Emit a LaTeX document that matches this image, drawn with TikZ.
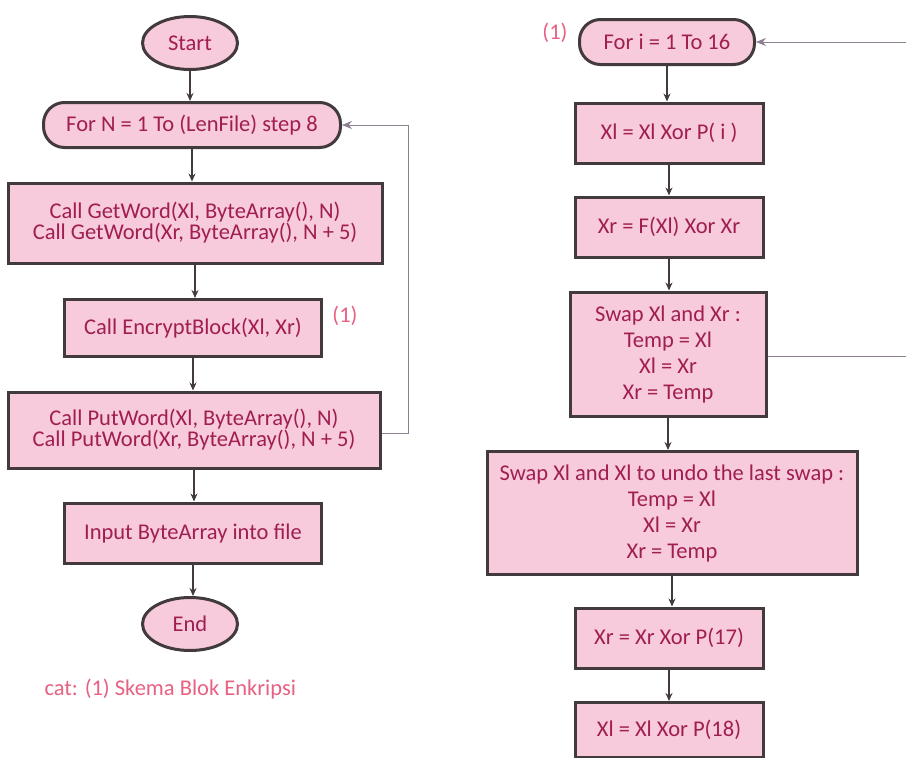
\documentclass[tikz,border=0pt]{standalone}
\usepackage{fontspec}
\setmainfont{Carlito}
\usetikzlibrary{arrows.meta,shapes.geometric}

\definecolor{boxfill}{RGB}{247,202,220}
\definecolor{boxtext}{RGB}{160,30,80}
\definecolor{boxline}{RGB}{66,58,60}
\definecolor{notetext}{RGB}{232,96,130}
\definecolor{loopline}{RGB}{140,128,145}

\tikzset{
  flowbox/.style={draw=boxline,line width=3pt,fill=boxfill,text=boxtext,
    align=center,inner sep=2pt,font=\fontsize{22.5}{19.5}\selectfont},
  swapbox/.style={flowbox,font=\fontsize{22.5}{26}\selectfont},
  termbox/.style={flowbox,ellipse,minimum width=95pt,minimum height=53pt},
  loopbox/.style={flowbox,rounded corners=21pt},
  flowarrow/.style={draw=boxline,line width=1.3pt,-{Stealth[length=8pt,width=7pt]}},
  looparrow/.style={draw=loopline,line width=1pt,-{Stealth[length=10pt,width=8pt]}},
  note/.style={text=notetext,font=\fontsize{22.5}{20}\selectfont}
}

\begin{document}
\begin{tikzpicture}[x=1pt,y=-1pt]
  \useasboundingbox (0,0) rectangle (906,758);

  \node[termbox] (start) at (190,43) {Start};
  \node[loopbox,minimum width=297pt,minimum height=45pt] (forn) at (192,125) {For N = 1 To (LenFile) step 8};
  \node[flowbox,minimum width=374pt,minimum height=80pt] (getw) at (195,223) {Call GetWord(Xl, ByteArray(), N)\\Call GetWord(Xr, ByteArray(), N + 5)};
  \node[flowbox,minimum width=257pt,minimum height=57pt] (encb) at (193,328) {Call EncryptBlock(Xl, Xr)};
  \node[note] (encnote) at (345,316) {(1)};
  \node[flowbox,minimum width=372pt,minimum height=76pt] (putw) at (194,430) {Call PutWord(Xl, ByteArray(), N)\\Call PutWord(Xr, ByteArray(), N + 5)};
  \node[flowbox,minimum width=257pt,minimum height=60pt] (inpt) at (193,533) {Input ByteArray into file};
  \node[termbox] (end) at (190,624) {End};
  \node[note,anchor=west] (catnote) at (41,689) {cat: (1) Skema Blok Enkripsi};

  \foreach \a/\b in {start/forn,forn/getw,getw/encb,encb/putw,putw/inpt,inpt/end}
    \draw[flowarrow] (\a.south) -- (\a.south |- \b.north);
  \coordinate (lcorner) at (408,433);
  \draw[looparrow] (putw.east |- lcorner) -- (lcorner) |- (forn.east);

  \node[loopbox,minimum width=175pt,minimum height=45pt] (fori) at (667,42) {For i = 1 To 16};
  \node[note] (forinote) at (555,33) {(1)};
  \node[flowbox,minimum width=188pt,minimum height=60pt] (xlp) at (669,133) {Xl = Xl Xor P( i )};
  \node[flowbox,minimum width=188pt,minimum height=60pt] (xrf) at (669,227) {Xr = F(Xl) Xor Xr};
  \node[swapbox,minimum width=196pt,minimum height=124pt] (swap) at (668,354) {Swap Xl and Xr :\\Temp = Xl\\Xl = Xr\\Xr = Temp};
  \node[swapbox,minimum width=370pt,minimum height=123pt] (undo) at (672,513) {Swap Xl and Xl to undo the last swap :\\Temp = Xl\\Xl = Xr\\Xr = Temp};
  \node[flowbox,minimum width=188pt,minimum height=60pt] (xr17) at (669,638) {Xr = Xr Xor P(17)};
  \node[flowbox,minimum width=188pt,minimum height=55pt] (xl18) at (669,730) {Xl = Xl Xor P(18)};

  \foreach \a/\b in {fori/xlp,xlp/xrf,xrf/swap,swap/undo,undo/xr17,xr17/xl18}
    \draw[flowarrow] (\a.south) -- (\a.south |- \b.north);
  \coordinate (rcorner) at (910,356);
  \draw[looparrow] (swap.east |- rcorner) -- (rcorner) |- (fori.east);
\end{tikzpicture}
\end{document}
